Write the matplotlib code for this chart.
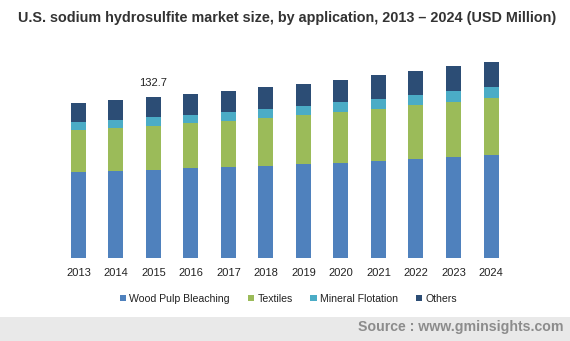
import numpy as np
import matplotlib.pyplot as plt
from matplotlib.patches import Rectangle

plt.rcParams['font.family'] = ['Liberation Sans', 'DejaVu Sans']

# Values (USD Million)
years = ['2013', '2014', '2015', '2016', '2017', '2018',
         '2019', '2020', '2021', '2022', '2023', '2024']
wood_pulp = [70.9, 72.0, 72.8, 74.4, 75.3, 76.1, 77.5, 78.3, 80.2, 81.9, 83.5, 84.9]
textiles = [34.6, 35.2, 36.0, 36.8, 37.9, 39.3, 40.6, 42.0, 42.6, 44.3, 45.1, 47.0]
mineral = [6.8, 6.6, 7.7, 6.6, 7.4, 7.4, 7.2, 8.2, 8.2, 8.2, 9.1, 9.1]
others = [15.7, 16.5, 16.2, 17.6, 17.0, 18.1, 18.7, 18.1, 19.8, 19.8, 20.6, 20.6]
series_names = ['Wood Pulp Bleaching', 'Textiles', 'Mineral Flotation', 'Others']
colors = ['#4f81bd', '#9bbb59', '#4bacc6', '#2c4d75']

fig = plt.figure(figsize=(5.7, 3.41), dpi=100)
ax = fig.add_axes([0.1048, 0.2434, 0.7895, 0.6041])

x = np.arange(len(years))
bottom = np.zeros(len(years))
for vals, name, c in zip([wood_pulp, textiles, mineral, others], series_names, colors):
    ax.bar(x, vals, width=0.4, bottom=bottom, color=c, label=name)
    bottom += np.array(vals)

# label on 2015 total
ax.text(x[2], bottom[2] + 8, f'{bottom[2]:.1f}', ha='center', va='bottom', fontsize=8, color='#222222')

ax.set_xlim(-0.5, len(years) - 0.5)
ax.set_ylim(0, 170)
ax.set_xticks(x)
ax.set_xticklabels(years, fontsize=8, color='#222222')
ax.tick_params(axis='x', length=0, pad=7)
ax.set_yticks([])
for s in ax.spines.values():
    s.set_visible(False)

fig.text(0.503, 0.947, 'U.S. sodium hydrosulfite market size, by application, 2013 \u2013 2024 (USD Million)',
         ha='center', va='center', fontsize=10.35, fontweight='bold', color='#333333')

leg = fig.legend(loc='center', bbox_to_anchor=(0.506, 0.124), ncol=4, frameon=False,
                 fontsize=7.6, handlelength=0.6, handleheight=0.6, handletextpad=0.3,
                 columnspacing=1.7)
for t in leg.get_texts():
    t.set_color('#222222')

# gray source band
fig.patches.append(Rectangle((0, 0), 1, 24 / 341, transform=fig.transFigure,
                             facecolor='#e9e9e9', edgecolor='none', zorder=0))
fig.text(0.989, 14 / 341, 'Source : www.gminsights.com', ha='right', va='center',
         fontsize=10.2, fontweight='bold', color='#8c8c8c')

fig.savefig('out.png', dpi=100)
